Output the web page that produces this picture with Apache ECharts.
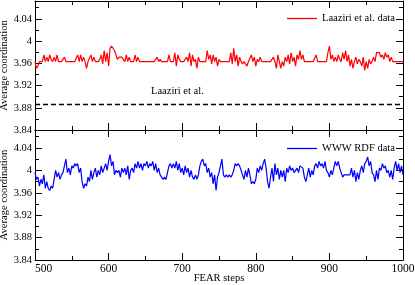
<!DOCTYPE html>
<html>
<head>
<meta charset="utf-8">
<script src="https://cdn.jsdelivr.net/npm/echarts@6/dist/echarts.min.js"></script>
<style>html,body{margin:0;padding:0;background:#fff}#c{width:415px;height:285px}</style>
</head>
<body>
<div id="c"></div>
<script>
// FEAR step numbers (every 2 steps from 500 to 1000)
const steps = Array.from({length: 251}, (_, i) => 500 + 2 * i);
const xTicks = [500, 600, 700, 800, 900, 1000];
const yTicks = [3.84, 3.88, 3.92, 3.96, 4.00, 4.04];

const laaziriName = 'Laaziri et al. data';
const laaziri = [
3.963,3.951,3.955,3.963,3.963,3.963,3.975,3.963,3.971,3.963,
3.975,3.967,3.963,3.971,3.963,3.975,3.963,3.963,3.963,3.963,
3.971,3.963,3.963,3.963,3.963,3.963,3.963,3.963,3.963,3.975,
3.963,3.975,3.963,3.971,3.963,3.951,3.963,3.963,3.975,3.963,
3.971,3.963,3.963,3.963,3.967,3.975,3.959,3.983,3.963,3.979,
3.955,3.987,3.991,3.991,3.983,3.975,3.967,3.971,3.971,3.971,
3.967,3.963,3.975,3.963,3.971,3.963,3.963,3.963,3.975,3.963,
3.971,3.963,3.963,3.963,3.963,3.963,3.963,3.963,3.963,3.963,
3.963,3.963,3.963,3.971,3.963,3.967,3.963,3.963,3.963,3.963,
3.963,3.975,3.963,3.963,3.963,3.979,3.955,3.975,3.967,3.963,
3.963,3.963,3.963,3.971,3.963,3.979,3.955,3.975,3.963,3.967,
3.951,3.971,3.963,3.963,3.963,3.963,3.963,3.983,3.967,3.975,
3.959,3.975,3.963,3.971,3.955,3.967,3.963,3.963,3.963,3.963,
3.963,3.963,3.963,3.979,3.959,3.987,3.963,3.975,3.955,3.971,
3.963,3.959,3.963,3.963,3.955,3.963,3.963,3.975,3.963,3.971,
3.955,3.967,3.963,3.971,3.963,3.963,3.963,3.963,3.963,3.963,
3.963,3.963,3.971,3.963,3.951,3.975,3.963,3.951,3.963,3.955,
3.971,3.963,3.975,3.959,3.979,3.963,3.971,3.955,3.975,3.967,
3.983,3.967,3.975,3.963,3.963,3.963,3.963,3.963,3.963,3.963,
3.963,3.975,3.963,3.963,3.963,3.963,3.963,3.963,3.963,3.979,
3.991,3.967,3.975,3.963,3.971,3.963,3.975,3.967,3.963,3.979,
3.967,3.983,3.963,3.975,3.955,3.967,3.951,3.963,3.971,3.959,
3.967,3.963,3.955,3.971,3.947,3.963,3.951,3.967,3.959,3.963,
3.971,3.963,3.979,3.979,3.979,3.971,3.975,3.967,3.979,3.971,
3.975,3.963,3.971,3.963,3.963,3.963,3.963,3.963,3.963,3.963,
3.963
];

const wwwName = 'WWW RDF data';
const www = [
3.996,3.984,3.988,3.972,3.984,3.976,3.992,3.968,3.980,3.968,
3.964,3.972,3.968,3.984,4.000,3.988,3.996,3.984,3.992,3.996,
4.008,4.020,3.996,4.004,3.992,4.008,4.004,4.012,4.008,4.012,
3.996,4.004,3.980,3.968,3.976,3.972,3.988,3.980,4.000,3.984,
3.996,4.004,3.988,4.000,3.992,4.008,3.996,4.004,4.012,4.000,
4.016,4.028,4.008,4.016,3.992,4.000,3.996,4.000,3.988,4.004,
3.996,4.004,3.992,4.008,3.984,4.000,4.004,3.996,4.012,4.004,
4.016,4.004,4.012,4.000,4.012,4.008,4.016,4.004,4.012,4.008,
4.016,4.000,4.012,3.996,4.004,3.992,3.988,3.984,3.988,3.984,
3.996,4.008,4.012,4.004,4.012,4.004,4.016,4.000,4.012,3.996,
4.004,3.992,4.008,3.996,4.004,3.988,4.000,3.988,3.984,3.992,
3.984,3.992,4.008,4.016,4.020,4.008,4.012,3.996,4.004,3.988,
3.996,3.976,3.992,3.964,3.988,3.996,4.008,4.020,3.992,3.988,
3.992,3.988,3.992,3.988,3.992,4.000,4.012,4.008,4.012,4.008,
4.000,3.992,3.984,4.000,3.988,4.004,3.992,3.976,3.980,3.976,
3.984,4.004,3.996,4.008,4.000,4.012,4.020,4.004,3.980,3.968,
3.988,4.004,3.980,4.012,3.992,4.004,3.984,4.000,3.988,4.000,
3.980,4.004,3.996,4.008,4.000,4.004,3.996,4.000,4.004,3.996,
4.008,4.008,4.004,3.988,3.980,3.992,4.004,3.988,4.000,3.992,
4.008,4.012,4.004,4.016,4.008,4.012,4.004,4.016,4.000,3.996,
3.988,4.000,3.992,4.004,4.016,4.008,4.016,4.004,3.996,3.988,
3.992,3.992,3.992,3.992,3.992,4.004,3.988,4.000,3.980,3.996,
3.984,4.000,4.008,3.996,4.012,4.016,4.024,4.008,4.016,3.996,
3.992,3.980,4.000,3.984,4.004,4.000,4.012,4.004,4.008,3.996,
4.000,3.988,4.000,3.984,4.004,4.016,4.000,4.012,3.996,4.008,
3.992
];

const refName = 'Laaziri et al.';
const refSteps = [500, 1000];
const refValues = [3.886, 3.886];

const xLabelName = 'FEAR steps';
const yLabelName = 'Average coordination';

const FONT = "'Liberation Serif','Times New Roman',serif";
const chart = echarts.init(document.getElementById('c'), null, {renderer: 'canvas'});

const axLine = {show: true, lineStyle: {color: '#000', width: 1}};
const tick = {show: true, inside: true, length: 7, lineStyle: {color: '#000', width: 1}};
const minor = {show: true, splitNumber: 2, length: 4, lineStyle: {color: '#000', width: 1}};

function xAxis(grid, pos, labels) {
  return {
    type: 'value', gridIndex: grid, position: pos, min: xTicks[0], max: xTicks[xTicks.length - 1], interval: 100,
    axisLine: axLine, axisTick: tick, minorTick: minor, splitLine: {show: false},
    axisLabel: labels ? {show: true, color: '#000', fontFamily: FONT, fontSize: 11.5, margin: 3, alignMinLabel: 'left',
      formatter: v => String(v)} : {show: false},
    name: labels ? xLabelName : '', nameLocation: 'middle', nameGap: 13, nameMoveOverlap: false,
    nameTextStyle: {color: '#000', fontFamily: FONT, fontSize: 10.5}
  };
}
function yAxis(grid, pos, labels) {
  return {
    type: 'value', gridIndex: grid, position: pos, min: yTicks[0], max: 4.072, interval: 0.04,
    axisLine: axLine, axisTick: tick, minorTick: minor, splitLine: {show: false},
    axisLabel: labels ? {show: true, color: '#000', fontFamily: FONT, fontSize: 10.5, margin: 3, showMaxLabel: false,
      formatter: v => String(+(+v).toFixed(2))} : {show: false},
    name: labels ? yLabelName : '', nameLocation: 'middle', nameGap: 25, nameMoveOverlap: false,
    nameTextStyle: {color: '#000', fontFamily: FONT, fontSize: 10.5}
  };
}

const pairs = (xs, ys) => xs.map((x, i) => [x, ys[i]]);

chart.setOption({
  animation: false,
  backgroundColor: '#fff',
  grid: [
    {left: 35, right: 12, top: 1, height: 129, outerBoundsMode: 'none', containLabel: false},
    {left: 35, right: 12, top: 130, height: 130, outerBoundsMode: 'none', containLabel: false}
  ],
  xAxis: [xAxis(0, 'bottom', false), xAxis(0, 'top', false), xAxis(1, 'bottom', true), xAxis(1, 'top', false)],
  yAxis: [yAxis(0, 'left', true), yAxis(0, 'right', false), yAxis(1, 'left', true), yAxis(1, 'right', false)],
  legend: [
    {data: [laaziriName], left: 287, top: 13, icon: 'rect', itemWidth: 30, itemHeight: 1.3, padding: 0,
     textStyle: {color: '#000', fontFamily: FONT, fontSize: 10.5}},
    {data: [wwwName], left: 287, top: 143, icon: 'rect', itemWidth: 30, itemHeight: 1.3, padding: 0,
     textStyle: {color: '#000', fontFamily: FONT, fontSize: 10.5}}
  ],
  graphic: [
    {type: 'text', left: 151, top: 86, style: {text: refName, fill: '#000', font: '10.5px ' + FONT}}
  ],
  series: [
    {name: laaziriName, type: 'line', xAxisIndex: 0, yAxisIndex: 0, data: pairs(steps, laaziri),
     symbol: 'none', lineStyle: {color: '#ff0000', width: 1.2}, itemStyle: {color: '#ff0000'}},
    {name: refName, type: 'line', xAxisIndex: 0, yAxisIndex: 0, data: pairs(refSteps, refValues),
     symbol: 'none', lineStyle: {color: '#000', width: 1.5, type: [5, 3]}, itemStyle: {color: '#000'}},
    {name: wwwName, type: 'line', xAxisIndex: 2, yAxisIndex: 2, data: pairs(steps, www),
     symbol: 'none', lineStyle: {color: '#0000ff', width: 1.2}, itemStyle: {color: '#0000ff'}}
  ]
});
</script>
</body>
</html>
